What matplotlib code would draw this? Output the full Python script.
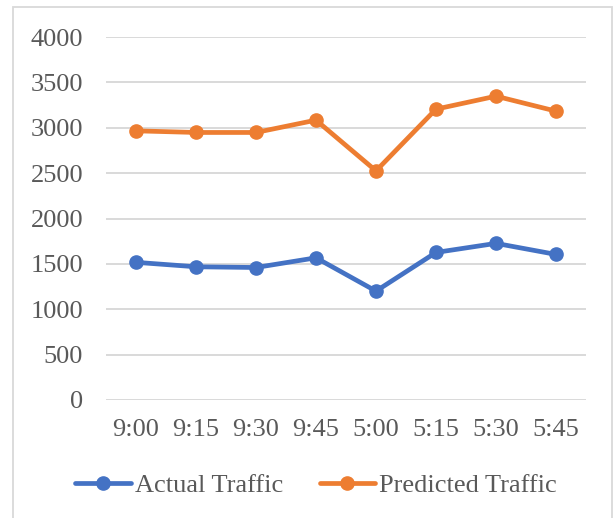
import matplotlib
matplotlib.use("Agg")
import matplotlib.pyplot as plt
from matplotlib.patches import Rectangle

categories = ["9:00", "9:15", "9:30", "9:45", "5:00", "5:15", "5:30", "5:45"]
actual = [1517, 1468, 1460, 1567, 1200, 1626, 1726, 1604]
predicted = [2966, 2948, 2948, 3084, 2525, 3205, 3348, 3183]
yticks = [0, 500, 1000, 1500, 2000, 2500, 3000, 3500, 4000]

plt.rcParams['font.family'] = ['Liberation Serif', 'DejaVu Serif']
W, H = 614, 518
fig = plt.figure(figsize=(W/100, H/100), dpi=100)
fig.patch.set_facecolor('white')

# outer border (extends beyond the bottom)
fig.patches.append(Rectangle((13/W, -0.1), (612-13)/W, 1 - 7/H + 0.1, transform=fig.transFigure,
                             fill=False, edgecolor='#D9D9D9', lw=1.3))

ax = fig.add_axes([106/W, 1 - 400/H, (586-106)/W, (400-37)/H])
x = list(range(len(categories)))
blue = '#4472C4'
orange = '#ED7D31'
ax.plot(x, actual, color=blue, lw=3.4, marker='o', ms=9.5, label='Actual Traffic',
        solid_capstyle='round', zorder=3)
ax.plot(x, predicted, color=orange, lw=3.4, marker='o', ms=9.5, label='Predicted Traffic',
        solid_capstyle='round', zorder=3)

ax.set_xlim(-0.5, len(categories) - 0.5)
ax.set_ylim(0, 4000)
ax.set_yticks(yticks)
ax.set_yticklabels([str(v) for v in yticks])
ax.set_xticks(x)
ax.set_xticklabels(categories)
ax.grid(axis='y', color='#D9D9D9', lw=1.4)
ax.set_axisbelow(True)
for s in ax.spines.values():
    s.set_visible(False)
ax.tick_params(axis='both', length=0, labelsize=19, labelcolor='#595959')
ax.tick_params(axis='y', pad=16.5)
ax.tick_params(axis='x', pad=14)

leg = fig.legend(loc='center', bbox_to_anchor=(316/W, 1 - 485/H), ncol=2, frameon=False,
                 fontsize=19, handlelength=2.1, handletextpad=0.15, columnspacing=1.4,
                 labelcolor='#595959', borderaxespad=0, borderpad=0)
fig.savefig('out.png', dpi=100, facecolor='white')
